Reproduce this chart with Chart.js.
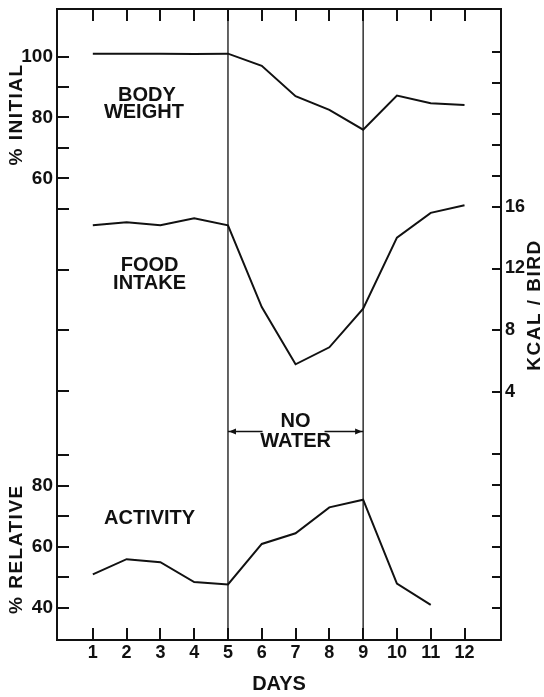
<!DOCTYPE html>
<html>
<head>
<meta charset="utf-8">
<script src="https://cdn.jsdelivr.net/npm/chart.js@4.4.1/dist/chart.umd.min.js"></script>
<style>
  html, body { margin: 0; padding: 0; background: #fff; }
</style>
</head>
<body>
<canvas id="chart" width="544" height="697"></canvas>
<script>
// valores
const days = [1, 2, 3, 4, 5, 6, 7, 8, 9, 10, 11, 12];
const bodyWeight = [101, 101, 101, 100.9, 101, 97, 87, 82.5, 76, 87.2, 84.7, 84.1];   // % initial
const foodIntake = [14.8, 15.0, 14.8, 15.25, 14.8, 9.5, 5.8, 6.9, 9.4, 14.0, 15.6, 16.1]; // kcal / bird
const activity = [51, 56, 55, 48.5, 47.7, 61, 64.5, 73, 75.5, 48, 41, null];           // % relative

const noWaterStart = 5;
const noWaterEnd = 9;

// marcas y etiquetas de los ejes
const bwTicks = [100, 90, 80, 70, 60, 50, 30, 10, -10];
const bwLabels = [100, 80, 60];
const actTicks = [90, 80, 70, 60, 50, 40];
const actLabels = [80, 60, 40];
const foodTicks = [26, 24, 22, 20, 18, 16, 12, 8, 4, 0, -2, -4, -6, -8, -10];
const foodLabels = [16, 12, 8, 4];

const INK = '#111';
const FONT = "'Liberation Sans', Arial, sans-serif";

const points = vals => days.map((d, i) => ({ x: d, y: vals[i] }));

const lineStyle = { borderColor: INK, borderWidth: 2, pointRadius: 0, tension: 0, fill: false };

// eje con marcas hacia dentro
function axisGrid(len) {
  return { drawOnChartArea: false, drawTicks: true, tickLength: -len, color: INK, lineWidth: 2 };
}
const axisBorder = { display: true, color: INK, width: 2 };

function setTicks(values) {
  return scale => { scale.ticks = values.map(v => ({ value: v })); };
}
function onlyLabels(labels) {
  return v => (labels.includes(v) ? String(v) : '');
}
// tamaño fijo del eje y sin relleno automatico
function fitTo(w, h) {
  return s => {
    if (w !== null) s.width = w;
    if (h !== null) s.height = h;
    s.paddingTop = 0; s.paddingBottom = 0; s.paddingLeft = 0; s.paddingRight = 0;
  };
}
function tickFont(size) {
  return { family: FONT, size: size, weight: 'bold' };
}

// textos, lineas verticales y flecha
const notes = {
  id: 'notes',
  afterDatasetsDraw(chart) {
    const { ctx, chartArea, scales } = chart;
    const { x, yBW, yAct, yFood } = scales;
    ctx.save();

    ctx.strokeStyle = INK;
    ctx.lineWidth = 1.3;
    [noWaterStart, noWaterEnd].forEach(d => {
      const px = x.getPixelForValue(d);
      ctx.beginPath();
      ctx.moveTo(px, chartArea.top);
      ctx.lineTo(px, chartArea.bottom);
      ctx.stroke();
    });

    // flecha "NO WATER"
    const x1 = x.getPixelForValue(noWaterStart);
    const x2 = x.getPixelForValue(noWaterEnd);
    const cx = (x1 + x2) / 2;
    const ay = yFood.getPixelForValue(1.45);
    ctx.lineWidth = 1.5;
    ctx.beginPath();
    ctx.moveTo(x1, ay); ctx.lineTo(cx - 33, ay);
    ctx.moveTo(cx + 29, ay); ctx.lineTo(x2, ay);
    ctx.stroke();
    ctx.fillStyle = INK;
    ctx.beginPath();
    ctx.moveTo(x1 + 1, ay); ctx.lineTo(x1 + 8, ay - 3); ctx.lineTo(x1 + 8, ay + 3); ctx.closePath();
    ctx.moveTo(x2 - 1, ay); ctx.lineTo(x2 - 8, ay - 3); ctx.lineTo(x2 - 8, ay + 3); ctx.closePath();
    ctx.fill();

    ctx.font = 'bold 20px ' + FONT;
    ctx.textAlign = 'center';
    ctx.textBaseline = 'middle';
    ctx.fillText('NO', cx, ay - 10);
    ctx.fillText('WATER', cx, ay + 10);

    const lx = x.getPixelForValue(2.6);
    const by = yBW.getPixelForValue(84.4);
    ctx.fillText('BODY', lx, by - 8.5);
    ctx.fillText('WEIGHT', lx - 3, by + 8.5);
    const fx = x.getPixelForValue(2.68);
    const fy = yFood.getPixelForValue(11.6);
    ctx.fillText('FOOD', fx, fy - 9);
    ctx.fillText('INTAKE', fx, fy + 9);
    ctx.fillText('ACTIVITY', fx, yAct.getPixelForValue(69.5));

    // titulos de los ejes verticales
    ctx.font = 'bold 19px ' + FONT;
    ctx.letterSpacing = '1.5px';
    const vtitle = (text, px, py) => {
      ctx.save();
      ctx.translate(px, py);
      ctx.rotate(-Math.PI / 2);
      ctx.fillText(text, 0, 0);
      ctx.restore();
    };
    vtitle('% INITIAL', yBW.left + 16.5, yBW.getPixelForValue(81));
    vtitle('% RELATIVE', yAct.left + 16.5, yAct.getPixelForValue(59.3));
    vtitle('KCAL / BIRD', yFood.right - 9, yFood.getPixelForValue(9.64));

    ctx.restore();
  }
};

const ctx = document.getElementById('chart').getContext('2d');

const chart = new Chart(ctx, {
  type: 'line',
  data: {
    datasets: [
      { label: 'Body weight', data: points(bodyWeight), yAxisID: 'yBW', ...lineStyle },
      { label: 'Food intake', data: points(foodIntake), yAxisID: 'yFood', ...lineStyle },
      { label: 'Activity', data: points(activity), yAxisID: 'yAct', ...lineStyle }
    ]
  },
  options: {
    responsive: false,
    animation: false,
    layout: { padding: { top: 9, left: 0, right: 0, bottom: 0 }, autoPadding: false },
    plugins: { legend: { display: false }, tooltip: { enabled: false } },
    scales: {
      x: {
        type: 'linear', position: 'bottom', min: -0.06, max: 13.08,
        afterBuildTicks: setTicks(days),
        afterFit: fitTo(null, 57),
        ticks: { color: INK, padding: 14, autoSkip: false, maxRotation: 0, font: tickFont(18) },
        grid: axisGrid(12), border: axisBorder,
        title: { display: true, text: 'DAYS', color: INK, padding: { top: 0, bottom: 1 },
                 font: tickFont(20) }
      },
      x2: {
        type: 'linear', position: 'top', min: -0.06, max: 13.08,
        afterBuildTicks: setTicks(days),
        afterFit: fitTo(null, 0),
        ticks: { display: false, autoSkip: false },
        grid: axisGrid(12), border: axisBorder
      },
      // los ejes de la izquierda se apilan en orden inverso
      yAct: {
        type: 'linear', position: 'left', stack: 'left', stackWeight: 215,
        min: 29.5, max: 100,
        afterBuildTicks: setTicks(actTicks),
        afterFit: fitTo(57, null),
        ticks: { color: INK, padding: 16, autoSkip: false, callback: onlyLabels(actLabels),
                 font: tickFont(19) },
        grid: axisGrid(12), border: axisBorder
      },
      yBW: {
        type: 'linear', position: 'left', stack: 'left', stackWeight: 416,
        min: -21.15, max: 115.69,
        afterBuildTicks: setTicks(bwTicks),
        afterFit: fitTo(57, null),
        ticks: { color: INK, padding: 16, autoSkip: false, callback: onlyLabels(bwLabels),
                 font: tickFont(19) },
        grid: axisGrid(12), border: axisBorder
      },
      yFood: {
        type: 'linear', position: 'right',
        min: -12.05, max: 28.8,
        afterBuildTicks: setTicks(foodTicks),
        afterFit: fitTo(43, null),
        ticks: { color: INK, padding: 13, autoSkip: false, callback: onlyLabels(foodLabels),
                 font: tickFont(18) },
        grid: axisGrid(9), border: axisBorder
      }
    }
  },
  plugins: [notes]
});
</script>
</body>
</html>
